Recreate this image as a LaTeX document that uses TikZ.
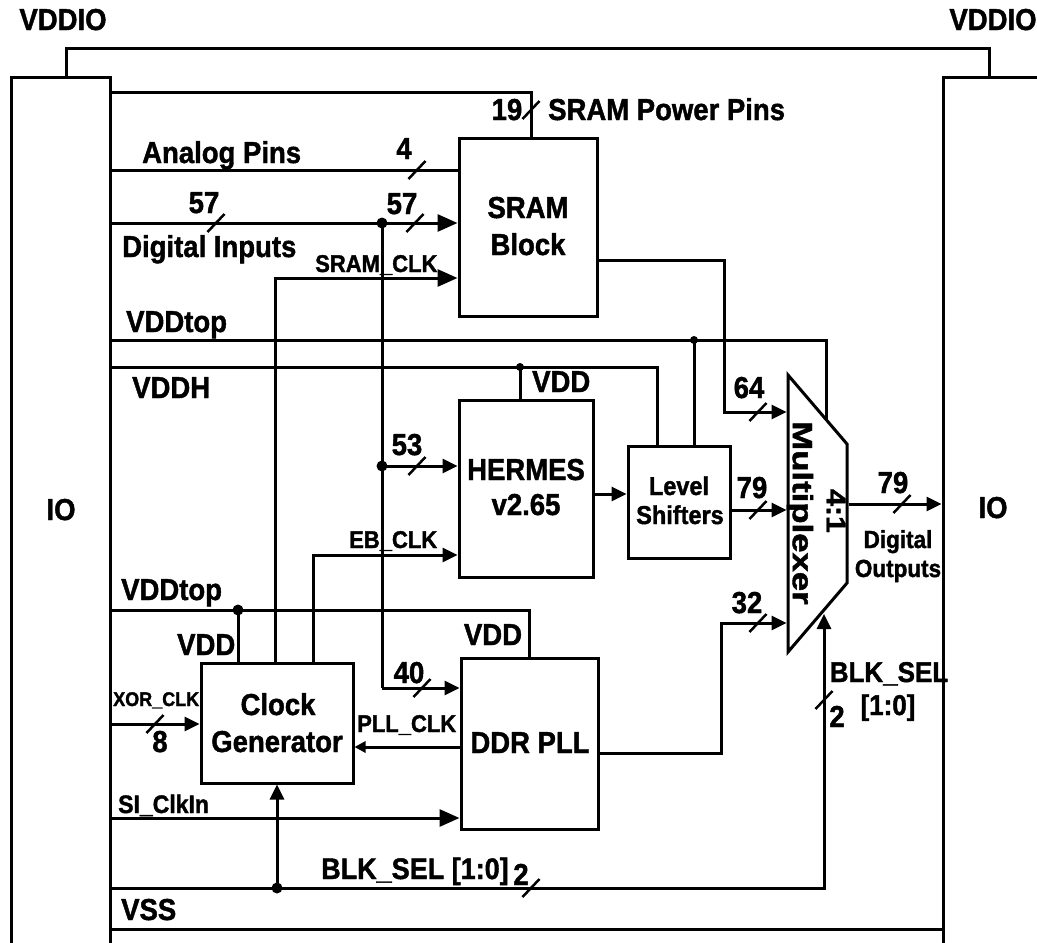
\documentclass[tikz,border=0pt]{standalone}
\usepackage{fontspec}
\setmainfont{Liberation Sans}[BoldFeatures={FakeBold=1.5}]
\usepackage{graphicx}
\usetikzlibrary{arrows.meta}
\newcommand{\myfs}[1]{\fontsize{#1}{#1}\selectfont}
\newcommand{\vtxt}[1]{\scalebox{1}[1.1]{#1}}
\begin{document}
\begin{tikzpicture}[x=1pt,y=-1pt,
  box/.style={draw, line width=3pt, inner sep=0pt},
  wire/.style={line width=3pt},
  arr/.style={wire, -{Triangle[length=15pt,width=14pt]}},
  bigarr/.style={wire, -{Triangle[length=20pt,width=17pt]}},
  smallarr/.style={wire, -{Triangle[length=11pt,width=11pt]}},
  slash/.style={line width=2.5pt},
  dot/.style={circle, fill, inner sep=0pt, minimum size=11pt},
  sdot/.style={circle, fill, inner sep=0pt, minimum size=8pt},
  lbl/.style={font=\bfseries\myfs{27.5}, inner sep=0pt, anchor=base},
]
\useasboundingbox (0,0) rectangle (1037,943);

% ---- blocks
\node[box, minimum width=99pt, minimum height=883pt] (ioL) at (60.5,518.5) {};
\node[box, minimum width=107pt, minimum height=883pt] (ioR) at (996.5,518.5) {};
\node[box, minimum width=138pt, minimum height=178pt] (sram) at (528,227) {};
\node[box, minimum width=134pt, minimum height=177pt] (hermes) at (526,488.5) {};
\node[box, minimum width=102pt, minimum height=112pt] (ls) at (679,502) {};
\node[box, minimum width=152pt, minimum height=120pt] (clk) at (277,723) {};
\node[box, minimum width=137pt, minimum height=171pt] (ddr) at (529.5,743.5) {};

% multiplexer
\coordinate (m1) at (788,375);
\coordinate (m2) at (847,444);
\coordinate (m3) at (847,583);
\coordinate (m4) at (788,652);
\draw[wire] (m1) -- (m2) -- (m3) -- (m4) -- cycle;

% ---- coordinates
\coordinate (v1) at (66,48);
\coordinate (v2) at (989,48);
\coordinate (pw) at (110,92);
\coordinate (pwc) at (531,92);
\coordinate (an) at (110,170);
\coordinate (di) at (110,223);
\coordinate (jd) at (382,223);
\coordinate (jh) at (382,466);
\coordinate (jp) at (382,688);
\coordinate (sc) at (275,278);
\coordinate (vt1) at (110,340);
\coordinate (vt1c) at (826,340);
\coordinate (mt) at (826,419);
\coordinate (jls) at (694,340);
\coordinate (vh) at (110,367);
\coordinate (vhc) at (657,367);
\coordinate (jhv) at (520,367);
\coordinate (hl) at (600,494);
\coordinate (lm) at (786.5,510);
\coordinate (c64a) at (724,260);
\coordinate (c64b) at (724,412);
\coordinate (mi64) at (786.5,412);
\coordinate (c32a) at (721,753);
\coordinate (c32b) at (721,623);
\coordinate (mi32) at (786.5,623);
\coordinate (mo) at (848.5,504);
\coordinate (vt2) at (110,610);
\coordinate (vt2c) at (529,610);
\coordinate (jcv) at (238,610);
\coordinate (ec) at (313,555);
\coordinate (xo) at (110,724);
\coordinate (pc) at (400,747);
\coordinate (si) at (110,818);
\coordinate (bs) at (110,888);
\coordinate (jbs) at (277,888);
\coordinate (bsc) at (824,888);
\coordinate (mb) at (824,614);
\coordinate (vss) at (110,929);

% ---- wires
\draw[wire] (ioL.north -| v1) -- (v1) -- (v2) -- (ioR.north -| v2);
\draw[wire] (ioL.east |- pw) -- (pwc) -- (sram.north -| pwc);
\draw[wire] (ioL.east |- an) -- (sram.west |- an);
\draw[bigarr] (ioL.east |- di) -- (sram.west |- di);
\draw[bigarr] (clk.north -| sc) -- (sc) -- (sram.west |- sc);
\draw[wire] (jd) -- (jp);
\draw[arr] (jp) -- (ddr.west |- jp);
\draw[arr] (jh) -- (hermes.west |- jh);
\draw[wire] (ioL.east |- vt1) -- (vt1c) -- (mt);
\draw[wire] (jls) -- (ls.north -| jls);
\draw[wire] (ioL.east |- vh) -- (vhc) -- (ls.north -| vhc);
\draw[wire] (jhv) -- (hermes.north -| jhv);
\draw[arr] (hermes.east |- hl) -- (ls.west |- hl);
\draw[arr] (ls.east |- lm) -- (lm);
\draw[arr] (sram.east |- c64a) -- (c64a) -- (c64b) -- (mi64);
\draw[arr] (ddr.east |- c32a) -- (c32a) -- (c32b) -- (mi32);
\draw[arr] (mo) -- (ioR.west |- mo);
\draw[wire] (ioL.east |- vt2) -- (vt2c) -- (ddr.north -| vt2c);
\draw[wire] (jcv) -- (clk.north -| jcv);
\draw[arr] (clk.north -| ec) -- (ec) -- (hermes.west |- ec);
\draw[arr] (ioL.east |- xo) -- (clk.west |- xo);
\draw[smallarr] (ddr.west |- pc) -- (clk.east |- pc);
\draw[bigarr] (ioL.east |- si) -- (ddr.west |- si);
\draw[arr] (ioL.east |- bs) -- (bsc) -- (mb);
\draw[arr] (jbs) -- (clk.south -| jbs);
\draw[wire] (ioL.east |- vss) -- (ioR.west |- vss);

% ---- junction dots
\node[dot] (dd) at (jd) {};
\node[dot] (dh) at (jh) {};
\node[dot] (db) at (jbs) {};
\node[dot] (dc) at (jcv) {};
\node[sdot] (dl) at (jls) {};
\node[sdot] (dv) at (jhv) {};

% ---- bus slashes
\foreach \p in {(216,223),(415,223),(417,170),(531,110),(417,466),(422,688),(155,724),(758,412),(758,510),(758,623),(902,504),(531,888),(824,700)}
  \draw[slash] \p ++(-8.5,9) -- ++(17,-18);

% ---- labels
\node[lbl] (tv1) at (63,30) {\vtxt{VDDIO}};
\node[lbl] (tv2) at (993,30) {\vtxt{VDDIO}};
\node[lbl] (t19) at (507,120) {\vtxt{19}};
\node[lbl, anchor=base west] (tsp) at (548,120) {\vtxt{SRAM Power Pins}};
\node[lbl, anchor=base west] (tan) at (142,163) {\vtxt{Analog Pins}};
\node[lbl] (t4) at (404,159) {\vtxt{4}};
\node[lbl] (t57a) at (204,213) {\vtxt{57}};
\node[lbl] (t57b) at (402,214) {\vtxt{57}};
\node[lbl, anchor=base west] (tdi) at (122,257) {\vtxt{Digital Inputs}};
\node[lbl, font=\bfseries\myfs{22}, anchor=base west] (tsc) at (315,272) {\vtxt{SRAM\_CLK}};
\node[lbl] (ts1) at (528,218) {\vtxt{SRAM}};
\node[lbl] (ts2) at (528,255) {\vtxt{Block}};
\node[lbl, anchor=base west] (tvt1) at (126,332) {\vtxt{VDDtop}};
\node[lbl, anchor=base west] (tvh) at (132,398) {\vtxt{VDDH}};
\node[lbl, anchor=base west] (tvdh) at (532,392) {\vtxt{VDD}};
\node[lbl] (t53) at (407,455) {\vtxt{53}};
\node[lbl] (th1) at (526,480) {\vtxt{HERMES}};
\node[lbl] (th2) at (526,515) {\vtxt{v2.65}};
\node[lbl] (tioL) at (61,520) {\vtxt{IO}};
\node[lbl] (tioR) at (993,518) {\vtxt{IO}};
\node[lbl, font=\bfseries\myfs{22}, anchor=base west] (teb) at (349,548) {\vtxt{EB\_CLK}};
\node[lbl, font=\bfseries\myfs{23.5}] (tl1) at (679,495) {\vtxt{Level}};
\node[lbl, font=\bfseries\myfs{23.5}] (tl2) at (680,524) {\vtxt{Shifters}};
\node[lbl] (t64) at (749,398) {\vtxt{64}};
\node[lbl] (t79a) at (752,498) {\vtxt{79}};
\node[lbl] (t79b) at (893,493) {\vtxt{79}};
\node[lbl] (t32) at (747,613) {\vtxt{32}};
\node[lbl, font=\bfseries\myfs{22.5}] (tdo1) at (898,548) {\vtxt{Digital}};
\node[lbl, font=\bfseries\myfs{22.5}] (tdo2) at (898,577) {\vtxt{Outputs}};
\node[font=\bfseries\myfs{28}, inner sep=0pt, rotate=-90] (tmux) at (800,513) {\scalebox{1.24}[1]{Multiplexer}};
\node[font=\bfseries\myfs{27}, inner sep=0pt, rotate=-90] (t41) at (836,511) {\scalebox{1.12}[1]{4:1}};
\node[lbl, anchor=base west] (tvt2) at (121,600) {\vtxt{VDDtop}};
\node[lbl, anchor=base west] (tvdc) at (177,655) {\vtxt{VDD}};
\node[lbl] (tvdd) at (493,645) {\vtxt{VDD}};
\node[lbl] (t40) at (409,683) {\vtxt{40}};
\node[lbl, font=\bfseries\myfs{18}, anchor=base west] (txo) at (113,706) {\vtxt{XOR\_CLK}};
\node[lbl] (t8) at (160,752) {\vtxt{8}};
\node[lbl] (tc1) at (278,715) {\vtxt{Clock}};
\node[lbl] (tc2) at (277,752) {\vtxt{Generator}};
\node[lbl, font=\bfseries\myfs{22}, anchor=base west] (tpc) at (357,732) {\vtxt{PLL\_CLK}};
\node[lbl] (tdd) at (530,753) {\vtxt{DDR PLL}};
\node[lbl, font=\bfseries\myfs{23}, anchor=base west] (tsi) at (118,813) {\vtxt{SI\_ClkIn}};
\node[lbl, font=\bfseries\myfs{27}, anchor=base west] (tbs) at (321,879) {\vtxt{BLK\_SEL [1:0]}};
\node[lbl] (t2a) at (521,885) {\vtxt{2}};
\node[lbl, font=\bfseries\myfs{26}] (tbs1) at (889,682) {\vtxt{BLK\_SEL}};
\node[lbl, font=\bfseries\myfs{26}] (tbs2) at (888,715) {\vtxt{[1:0]}};
\node[lbl] (t2b) at (837,727) {\vtxt{2}};
\node[lbl, anchor=base west] (tvss) at (121,920) {\vtxt{VSS}};
\end{tikzpicture}
\end{document}
